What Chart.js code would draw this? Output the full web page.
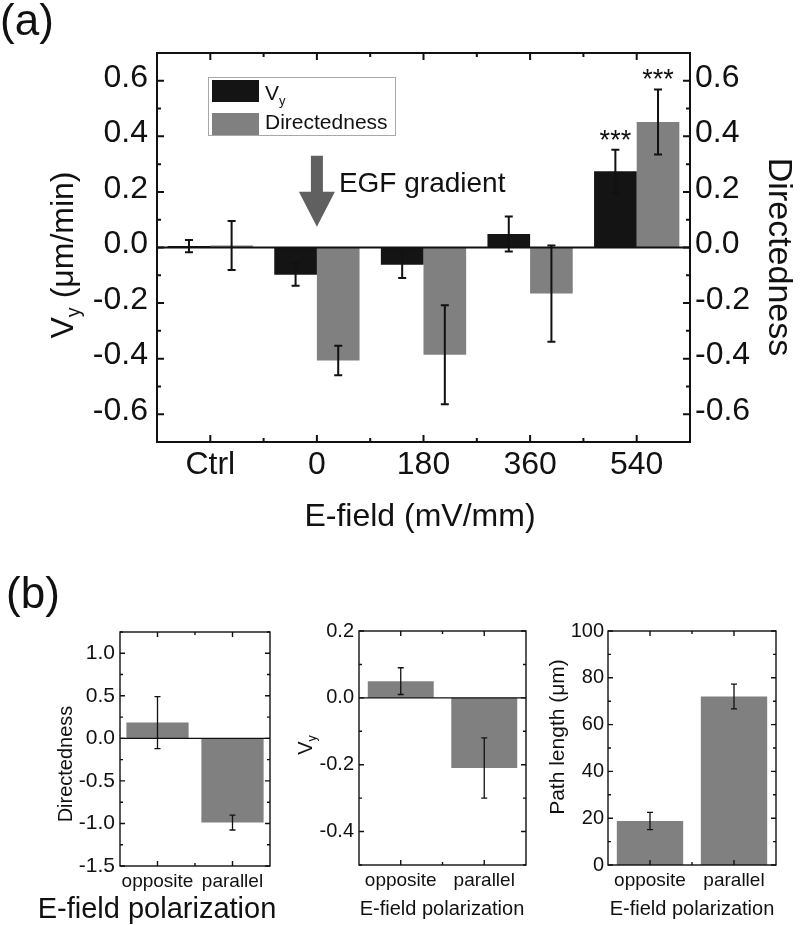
<!DOCTYPE html>
<html><head><meta charset="utf-8">
<script src="https://cdn.jsdelivr.net/npm/chart.js@4.4.1/dist/chart.umd.min.js"></script>
<style>
html,body{margin:0;padding:0;background:#fff;}
#wrap{position:relative;width:800px;height:925px;overflow:hidden;background:#fff;}
#wrap canvas{position:absolute;left:0;top:0;}
</style></head><body>
<div id="wrap">
<canvas id="cA" width="800" height="925"></canvas>
<canvas id="cB1" width="800" height="925"></canvas>
<canvas id="cB2" width="800" height="925"></canvas>
<canvas id="cB3" width="800" height="925"></canvas>
</div>
<script>
// ---------- DATA ----------
const categoriesA = ['Ctrl', '0', '180', '360', '540'];
const vyA      = [0.005, -0.098, -0.062, 0.049, 0.274];
const vyAErr   = [0.022, 0.040, 0.048, 0.063, 0.078];
const dirA     = [0.007, -0.407, -0.386, -0.166, 0.452];
const dirAErr  = [0.088, 0.053, 0.178, 0.173, 0.117];
const sigVyA   = ['', '', '', '', '***'];
const sigDirA  = ['', '', '', '', '***'];
const yTicksA  = [-0.6, -0.4, -0.2, 0, 0.2, 0.4, 0.6];

const categoriesB = ['opposite', 'parallel'];
const dirB     = [0.185, -0.99];
const dirBErr  = [0.305, 0.087];
const vyB      = [0.05, -0.21];
const vyBErr   = [0.04, 0.09];
const pathB    = [18.8, 72];
const pathBErr = [3.7, 5.3];
const yTicksB1 = [-1.5, -1.0, -0.5, 0, 0.5, 1.0];
const yTicksB2 = [-0.4, -0.2, 0, 0.2];
const yTicksB3 = [0, 20, 40, 60, 80, 100];

// ---------- HELPERS ----------
const FONT = '"Liberation Sans", Arial, Helvetica, sans-serif';
const INK = '#111';

function parseRich(s) {
  const segs = []; let buf = ''; let i = 0;
  while (i < s.length) {
    if (s[i] === '_') { if (buf) { segs.push({t: buf, sub: false}); buf = ''; } segs.push({t: s[i + 1], sub: true}); i += 2; }
    else { buf += s[i]; i++; }
  }
  if (buf) segs.push({t: buf, sub: false});
  return segs;
}
function richText(ctx, s, x, y, size, align) {
  const segs = parseRich(s); const sub = size * 0.62;
  let w = 0;
  segs.forEach(g => { ctx.font = (g.sub ? sub : size) + 'px ' + FONT; g.w = ctx.measureText(g.t).width; w += g.w; });
  let cx = align === 'center' ? x - w / 2 : (align === 'right' ? x - w : x);
  ctx.fillStyle = INK; ctx.textBaseline = 'alphabetic'; ctx.textAlign = 'left';
  segs.forEach(g => { ctx.font = (g.sub ? sub : size) + 'px ' + FONT; ctx.fillText(g.t, cx, g.sub ? y + size * 0.22 : y); cx += g.w; });
}
function centeredText(ctx, s, cx, cy, size, rot) {
  ctx.save(); ctx.translate(cx, cy); ctx.rotate(rot || 0);
  richText(ctx, s, 0, size * 0.35, size, 'center');
  ctx.restore();
}
function seg(ctx, x1, y1, x2, y2) { ctx.moveTo(x1, y1); ctx.lineTo(x2, y2); }

const decor = {
  id: 'decor',
  afterDatasetsDraw(chart, args, o) {
    const ctx = chart.ctx;
    const {left, right, top, bottom} = chart.chartArea;
    const x = chart.scales.x; const y = chart.scales.y;
    ctx.save();
    ctx.strokeStyle = INK; ctx.lineCap = 'butt';
    if (o.zero) {
      ctx.lineWidth = o.lw; ctx.beginPath();
      const py = y.getPixelForValue(0); seg(ctx, left, py, right, py); ctx.stroke();
    }
    chart.data.datasets.forEach((ds, di) => {
      const meta = chart.getDatasetMeta(di);
      const ys = chart.scales[meta.yAxisID];
      const errs = o.errors[di]; const sig = o.sig ? o.sig[di] : null;
      ctx.lineWidth = o.errW;
      meta.data.forEach((bar, j) => {
        const v = ds.data[j], e = errs[j];
        const y1 = ys.getPixelForValue(v + e), y2 = ys.getPixelForValue(v - e);
        const bx = bar.x;
        ctx.beginPath();
        seg(ctx, bx, y1, bx, y2);
        seg(ctx, bx - o.cap, y1, bx + o.cap, y1);
        seg(ctx, bx - o.cap, y2, bx + o.cap, y2);
        ctx.stroke();
        if (sig && sig[j]) {
          ctx.fillStyle = INK; ctx.font = o.sigSize + 'px ' + FONT;
          ctx.textAlign = 'center'; ctx.textBaseline = 'alphabetic';
          ctx.fillText(sig[j], bx, Math.min(y1, y2) + o.sigOff);
        }
      });
    });
    ctx.lineWidth = o.lw;
    ctx.strokeRect(left, top, right - left, bottom - top);
    ctx.beginPath();
    const n = Math.round((y.max - y.min) / o.minor);
    for (let k = 0; k <= n; k++) {
      const v = y.min + k * o.minor;
      const py = y.getPixelForValue(v);
      const isMajor = o.majors.some(m => Math.abs(m - v) < 1e-6);
      const len = isMajor ? o.tMaj : o.tMin;
      seg(ctx, left, py, left + len, py);
      seg(ctx, right, py, right - len, py);
    }
    const cnt = chart.data.labels.length;
    for (let i = 0; i < cnt; i++) {
      const px = x.getPixelForValue(i);
      seg(ctx, px, bottom, px, bottom - o.tMaj);
      seg(ctx, px, top, px, top + o.tMaj);
      if (i < cnt - 1) {
        const pb = (px + x.getPixelForValue(i + 1)) / 2;
        seg(ctx, pb, bottom, pb, bottom - o.tMin);
        seg(ctx, pb, top, pb, top + o.tMin);
      }
    }
    ctx.stroke();
    ctx.restore();
  },
  afterDraw(chart, args, o) {
    const ctx = chart.ctx;
    ctx.save();
    (o.texts || []).forEach(t => centeredText(ctx, t.t, t.x, t.y, t.size, t.rot));
    if (o.legend) {
      const L = o.legend;
      ctx.strokeStyle = '#a8a8a8'; ctx.lineWidth = 1;
      ctx.strokeRect(L.x + 0.5, L.y + 0.5, L.w, L.h);
      chart.data.datasets.forEach((ds, i) => {
        ctx.fillStyle = ds.backgroundColor;
        ctx.fillRect(L.sx, L.rows[i], L.sw, L.sh);
        richText(ctx, ds.label, L.tx, L.base[i], L.size, 'left');
      });
    }
    if (o.arrow) {
      const A = o.arrow; const x = chart.scales.x; const y = chart.scales.y;
      const px = x.getPixelForValue(A.index);
      const y0 = y.getPixelForValue(A.from), y1 = y.getPixelForValue(A.to);
      const hb = y1 - A.headLen;
      ctx.fillStyle = A.color;
      ctx.beginPath();
      ctx.moveTo(px - A.shaftW / 2, y0); ctx.lineTo(px + A.shaftW / 2, y0);
      ctx.lineTo(px + A.shaftW / 2, hb); ctx.lineTo(px + A.headW / 2, hb);
      ctx.lineTo(px, y1); ctx.lineTo(px - A.headW / 2, hb);
      ctx.lineTo(px - A.shaftW / 2, hb); ctx.closePath(); ctx.fill();
      richText(ctx, A.text, px + A.textDx, hb, A.textSize, 'left');
    }
    ctx.restore();
  }
};

function yScale(min, max, ticks, fmt, pos, width, size, pad, lOff) {
  return {
    position: pos, min: min, max: max,
    grid: {display: false, drawTicks: false}, border: {display: false},
    ticks: {font: {family: FONT, size: size}, color: INK, padding: pad, callback: fmt, labelOffset: lOff || 0},
    afterBuildTicks(s) { s.ticks = ticks.map(v => ({value: v})); },
    afterFit(s) { s.width = width; }
  };
}
function xScale(height, size, pad) {
  return {
    grid: {display: false, drawTicks: false}, border: {display: false},
    ticks: {font: {family: FONT, size: size}, color: INK, padding: pad, maxRotation: 0, autoSkip: false},
    afterFit(s) { s.height = height; }
  };
}
const f1 = v => Number(v).toFixed(1);
const f0 = v => Number(v).toFixed(0);

// ---------- CHART (a) ----------
new Chart(document.getElementById('cA'), {
  type: 'bar',
  data: {labels: categoriesA, datasets: [
    {label: 'V_y', data: vyA, backgroundColor: '#141414', yAxisID: 'y'},
    {label: 'Directedness', data: dirA, backgroundColor: '#808080', yAxisID: 'y1'}
  ]},
  options: {
    responsive: false, animation: false, events: [],
    layout: {padding: {left: 0, top: 53, right: 0, bottom: 365}},
    datasets: {bar: {categoryPercentage: 0.8, barPercentage: 1.0, borderWidth: 0}},
    scales: {
      x: xScale(118, 32, 4),
      y: yScale(-0.7, 0.7, yTicksA, f1, 'left', 157, 32, 9, -3),
      y1: yScale(-0.7, 0.7, yTicksA, f1, 'right', 110, 32, 5, -3)
    },
    plugins: {
      legend: {display: false}, tooltip: {enabled: false},
      decor: {
        zero: true, lw: 2, errW: 2, cap: 4, minor: 0.1, majors: yTicksA, tMaj: 7, tMin: 4,
        errors: [vyAErr, dirAErr], sig: [sigVyA, sigDirA], sigSize: 27, sigOff: -1,
        texts: [
          {t: 'E-field (mV/mm)', x: 420, y: 515, size: 32, rot: 0},
          {t: 'V_y (μm/min)', x: 62, y: 255, size: 32, rot: -Math.PI / 2},
          {t: 'Directedness', x: 781, y: 257, size: 34, rot: Math.PI / 2},
          {t: '(a)', x: 27, y: 20, size: 44, rot: 0},
          {t: '(b)', x: 33, y: 593, size: 44, rot: 0}
        ],
        legend: {x: 208, y: 77, w: 187, h: 58, sx: 212, sw: 47, sh: 22, rows: [80, 113], tx: 265, base: [100, 129], size: 21},
        arrow: {index: 1, from: 0.33, to: 0.075, shaftW: 12, headW: 36, headLen: 35, color: '#606060',
                text: 'EGF gradient', textDx: 22, textSize: 28}
      }
    }
  },
  plugins: [decor]
});

// ---------- CHARTS (b) ----------
function makeB(id, data, err, ticks, min, max, minor, fmt, pad, yWidth, xHeight, tickSize, yPad, catPct, texts, zero) {
  new Chart(document.getElementById(id), {
    type: 'bar',
    data: {labels: categoriesB, datasets: [{label: 'b', data: data, backgroundColor: '#808080'}]},
    options: {
      responsive: false, animation: false, events: [],
      layout: {padding: pad},
      datasets: {bar: {categoryPercentage: catPct, barPercentage: 1.0, borderWidth: 0}},
      scales: {
        x: xScale(xHeight, 19, 4),
        y: yScale(min, max, ticks, fmt, 'left', yWidth, tickSize, yPad, 0)
      },
      plugins: {
        legend: {display: false}, tooltip: {enabled: false},
        decor: {zero: zero, lw: 1.4, errW: 1.3, cap: 3, minor: minor, majors: ticks, tMaj: 5, tMin: 3,
                errors: [err], texts: texts}
      }
    },
    plugins: [decor]
  });
}

makeB('cB1', dirB, dirBErr, yTicksB1, -1.5, 1.25, 0.25, f1,
  {left: 0, top: 632, right: 530, bottom: 0}, 120, 59, 21, 5, 0.83,
  [{t: 'Directedness', x: 65, y: 764, size: 20, rot: -Math.PI / 2},
   {t: 'E-field polarization', x: 157, y: 908, size: 29, rot: 0}], true);

makeB('cB2', vyB, vyBErr, yTicksB2, -0.5, 0.2, 0.1, f1,
  {left: 299, top: 631, right: 274, bottom: 0}, 60, 60, 20, 5, 0.79,
  [{t: 'V_y', x: 305, y: 745, size: 20, rot: -Math.PI / 2},
   {t: 'E-field polarization', x: 442, y: 908, size: 20, rot: 0}], true);

makeB('cB3', pathB, pathBErr, yTicksB3, 0, 100, 10, f0,
  {left: 548, top: 631, right: 24, bottom: 0}, 60, 60, 20, 4, 0.79,
  [{t: 'Path length (μm)', x: 557, y: 737, size: 21, rot: -Math.PI / 2},
   {t: 'E-field polarization', x: 692, y: 908, size: 20, rot: 0}], false);
</script>
</body></html>
